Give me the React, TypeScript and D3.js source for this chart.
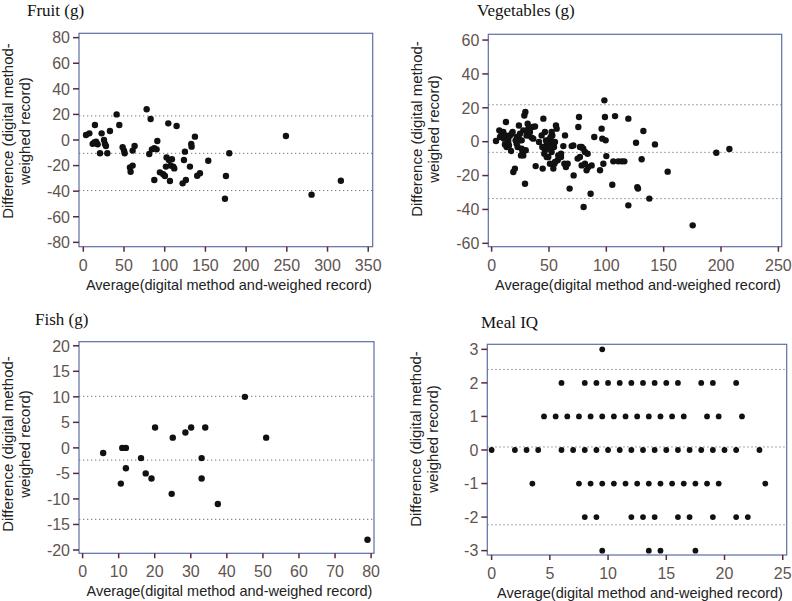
import React from "react";
import * as d3 from "d3";

// ---------- data ----------
const fruitXTicks = [0, 50, 100, 150, 200, 250, 300, 350];
const fruitYTicks = [80, 60, 40, 20, 0, -20, -40, -60, -80];
const fruitLines = [18.8, -10.4, -39.5];
const fruitPoints: [number, number][] = [
  [3.3, 3.9], [7.4, 5.2], [14.3, 11.7], [13.5, -2], [16.4, -2.6], [11.5, -3], [15.6, -1.3],
  [17.6, -3.4], [20.5, -10.4], [22.5, 5.2], [25.4, 0], [26.6, -3.1], [27.8, -4.7], [29.5, -10.4],
  [32.7, 7], [40.9, 20], [44.2, 11.7], [48.3, -5.7], [50.8, -10.4], [50, -8.3], [57.3, -21.4],
  [58.1, -24.8], [60.6, -20], [60.6, -8.3], [63, -4.7], [77.8, 24], [82.7, 16.4], [81, -10.9],
  [84.3, -7.3], [87.2, -6.5], [90, -7.3], [90.9, -0.8], [87.2, -31.3], [94.1, -25.3], [98.2, -26.8],
  [100.3, -28.1], [102.3, -13.6], [104.4, 13], [101.5, -20.8], [105.2, -15.6], [106.4, -32],
  [107.2, -20], [108.8, -15.1], [110.5, -20.8], [111.7, -22.2], [114.6, 10.9], [122, -33.9],
  [124.8, -9.1], [123.6, -15.6], [126, -31.3], [131, -20.8], [132.6, -3.1], [133, -5.2],
  [137.1, 2.6], [139.9, -27.9], [143.3, -26], [153.5, -16.2], [174, -45.9], [175.2, -28.1],
  [179.3, -10.4], [248.9, 3.1], [280.4, -42.7], [316.4, -31.8],
];

const vegXTicks = [0, 50, 100, 150, 200, 250];
const vegYTicks = [60, 40, 20, 0, -20, -40, -60];
const vegLines = [21.8, -6.3, -33.6];
const vegPoints: [number, number][] = [
  [3.8, 0.4], [6.7, 6.7], [8.7, 4.3], [10.8, 1.8], [11.6, -1.6], [12.5, 11.6], [13.1, -3.1],
  [14.5, -0.2], [16, 3.7], [16.9, -5.5], [17.4, 4.7], [18.9, -17.9], [20.3, -15.9], [18.3, 5.7],
  [20.9, 0.8], [21.8, -1.2], [23.3, 2.8], [22.7, -3.1], [23.8, 9.6], [24.7, 4.7], [25.6, -8.1],
  [26.2, 0.8], [27, -6.1], [27.6, 6.7], [28.5, 15.5], [29.1, -24.8], [29.4, 17.5], [29.7, -5.1],
  [30.5, 3.7], [31.4, 10.6], [32, 7.7], [33.4, 5.7], [34.9, 2.4], [35.5, 8.7], [37.8, 9],
  [38.4, -14.4], [41.3, -0.2], [43.6, 3.7], [44.5, -15.9], [45.1, 13.6], [45.6, -3.1], [45.9, -7.1],
  [46.5, 5.7], [47.4, 0.8], [48, -9], [49.4, -4.1], [50, -1.2], [50.9, -13], [51.5, 2.8],
  [52.3, -6.1], [52.9, 3.7], [53.8, -15.9], [54.4, -3.1], [54.7, -13], [55.2, -0.2], [56.1, 9.6],
  [56.7, 7.7], [57.6, -11], [58.1, -8.1], [60.5, -9], [62.5, -2.6], [64, 3.7], [64.8, -15],
  [66.3, -13], [68, -27.7], [69.8, -2.6], [71.5, -19.9], [75, -10], [76.2, 14.6], [75.6, 8.7],
  [77, -3.1], [78.5, -14], [79.9, -4.1], [80.2, -38.6], [81.4, -6.1], [82.8, -16.9], [83.7, -7.1],
  [86.3, -30.7], [87.2, -14], [89.5, 2.8], [94.5, -16.9], [95.9, 7.7], [96.5, 1.8], [97.4, -13],
  [98.3, 24.4], [98.8, 14.6], [99.4, 0.8], [100, -8.5], [105.2, -25.4], [106.1, -11.6],
  [107.6, 15.1], [110.5, -11.6], [113.4, -11.6], [115.7, -11.6], [119.2, 13.6], [119.2, -37.6],
  [125.9, -0.6], [127, -26.8], [127.6, -27.7], [130.8, -10.4], [132.3, 6.3], [137.5, -33.6],
  [142.4, -1.6], [153.5, -17.7], [175.3, -49.4], [195.9, -6.5], [207.3, -4.3],
  [7.3, 2.8], [10.2, 5.7], [12.2, 3.7], [14.5, 1.8], [15.1, -2.2], [22.1, 2.8], [24.7, 0.8],
  [26.2, -4.1], [27.6, -8.1], [31.4, 6.7], [32, 3.7], [36.3, 1.8], [44.2, -3.1], [46.5, -5.1],
  [48, -0.2], [49.4, -9], [50.9, 1.8], [52.3, 5.7], [53.8, -1.2], [55.2, -12], [60.5, -7.1],
  [63.4, -13], [71.2, -2.2], [78.5, -3.1], [77, -9], [81.4, -13], [84.3, -15],
];

const fishXTicks = [0, 10, 20, 30, 40, 50, 60, 70, 80];
const fishYTicks = [20, 15, 10, 5, 0, -5, -10, -15, -20];
const fishLines = [10.1, -2.4, -14];
const fishPoints: [number, number][] = [
  [5.7, -1], [10.6, -7], [11, 0], [12, 0], [12, -4], [16.2, -2], [17.5, -5], [19.1, -6],
  [20.1, 4], [24.7, -9], [25, 2], [28.5, 3], [30.1, 4], [33, -2], [33, -6], [34, 4],
  [37.5, -11], [45, 10], [50.9, 2], [79, -18],
];

const mealXTicks = [0, 5, 10, 15, 20, 25];
const mealYTicks = [3, 2, 1, 0, -1, -2, -3];
const mealLines = [2.4, 0.09, -2.23];
const mealAtPlus3 = [9.5];
const mealAtPlus2 = [6, 8, 9, 10, 11, 12, 13, 14, 15, 16, 18, 19, 21];
const mealAtPlus1 = [4.5, 5.5, 6.5, 7.5, 8.5, 9.5, 10.5, 11.5, 12.5, 13.5, 14.5, 15.5, 16.5, 18.5, 19.5, 21.5];
const mealAtZero = [0, 2, 3, 4, 6, 7, 8, 9, 10, 11, 12, 13, 14, 15, 16, 17, 18, 19, 20, 21, 23];
const mealAtMinus1 = [3.5, 7.5, 8.5, 9.5, 10.5, 11.5, 12.5, 13.5, 14.5, 15.5, 16.5, 17.5, 18.5, 19.5, 23.5];
const mealAtMinus2 = [8, 9, 12, 13, 14, 16, 17, 19, 21, 22];
const mealAtMinus3 = [9.5, 13.5, 14.5, 17.5];
const mealRows: [number, number[]][] = [
  [3, mealAtPlus3], [2, mealAtPlus2], [1, mealAtPlus1], [0, mealAtZero],
  [-1, mealAtMinus1], [-2, mealAtMinus2], [-3, mealAtMinus3],
];
const mealPoints: [number, number][] = mealRows.flatMap(([y, xs]) => xs.map((x) => [x, y] as [number, number]));

// ---------- styles ----------
const BOX = "#5d6ea3";
const TICK = "#5a2a36";
const TICKTXT = "#5f5450";
const SANS = "'Liberation Sans', Arial, sans-serif";
const SERIF = "'Liberation Serif', 'Times New Roman', serif";

type PanelProps = {
  title: string;
  titleX: number;
  titleY: number;
  box: [number, number, number, number];
  xDom: [number, number];
  yDom: [number, number];
  xTicks: number[];
  yTicks: number[];
  lines: number[];
  points: [number, number][];
  labelCY: number;
  r: number;
};

function Panel(p: PanelProps) {
  const [l, t, rr, b] = p.box;
  const x = d3.scaleLinear().domain(p.xDom).range([l, rr]);
  const y = d3.scaleLinear().domain(p.yDom).range([t, b]);
  const cx = (l + rr) / 2 + 3;
  return (
    <g>
      <text x={p.titleX} y={p.titleY} fontFamily={SERIF} fontSize={17} fill="#111">
        {p.title}
      </text>
      {p.lines.map((v, i) => (
        <line key={"l" + i} x1={l} x2={rr} y1={y(v)} y2={y(v)} stroke="#777" strokeWidth={1} strokeDasharray="1.3,2.7" />
      ))}
      {p.points.map((d, i) => (
        <circle key={"p" + i} cx={x(d[0])} cy={y(d[1])} r={p.r} fill="#111" />
      ))}
      <rect x={l} y={t} width={rr - l} height={b - t} fill="none" stroke={BOX} strokeWidth={1.2} />
      {p.yTicks.map((v) => (
        <g key={"y" + v}>
          <line x1={l - 6} x2={l} y1={y(v)} y2={y(v)} stroke={TICK} strokeWidth={1.5} />
          <text x={l - 9} y={y(v)} dy="0.36em" textAnchor="end" fontFamily={SANS} fontSize={16} fill={TICKTXT}>
            {v}
          </text>
        </g>
      ))}
      {p.xTicks.map((v) => (
        <g key={"x" + v}>
          <line x1={x(v)} x2={x(v)} y1={b} y2={b + 5} stroke={TICK} strokeWidth={1.5} />
          <text x={x(v)} y={b + 24} textAnchor="middle" fontFamily={SANS} fontSize={16} fill={TICKTXT}>
            {v}
          </text>
        </g>
      ))}
      <text transform={`translate(0,${p.labelCY}) rotate(-90)`} textAnchor="middle" fontFamily={SANS} fontSize={15} fill="#222">
        <tspan x={0} y={l - 66}>Difference (digital method-</tspan>
        <tspan x={0} y={l - 49}>weighed record)</tspan>
      </text>
      <text x={cx} y={b + 43} textAnchor="middle" fontFamily={SANS} fontSize={14.5} fill="#222">
        Average(digital method and-weighed record)
      </text>
    </g>
  );
}

export default function App() {
  return (
    <svg width={792} height={601} style={{ position: "absolute", left: 0, top: 0, background: "#fff" }}>
      <rect width={792} height={601} fill="#fff" />
      <Panel
        title="Fruit (g)"
        titleX={27}
        titleY={16}
        box={[79, 33.3, 372.7, 246.7]}
        xDom={[-5.3, 355.5]}
        yDom={[83.4, -83.4]}
        xTicks={fruitXTicks}
        yTicks={fruitYTicks}
        lines={fruitLines}
        points={fruitPoints}
        labelCY={131}
        r={3.2}
      />
      <Panel
        title="Vegetables (g)"
        titleX={477}
        titleY={16}
        box={[488.3, 34.3, 781.7, 246.7]}
        xDom={[-2.9, 252.9]}
        yDom={[63.4, -62]}
        xTicks={vegXTicks}
        yTicks={vegYTicks}
        lines={vegLines}
        points={vegPoints}
        labelCY={129}
        r={3.2}
      />
      <Panel
        title="Fish (g)"
        titleX={35}
        titleY={325}
        box={[79, 341.7, 374, 553.3]}
        xDom={[-1, 80.8]}
        yDom={[20.8, -20.65]}
        xTicks={fishXTicks}
        yTicks={fishYTicks}
        lines={fishLines}
        points={fishPoints}
        labelCY={444}
        r={3.2}
      />
      <Panel
        title="Meal IQ"
        titleX={481}
        titleY={328}
        box={[487.3, 344.3, 786.7, 555]}
        xDom={[-0.37, 25.34]}
        yDom={[3.15, -3.13]}
        xTicks={mealXTicks}
        yTicks={mealYTicks}
        lines={mealLines}
        points={mealPoints}
        labelCY={439}
        r={2.9}
      />
    </svg>
  );
}
